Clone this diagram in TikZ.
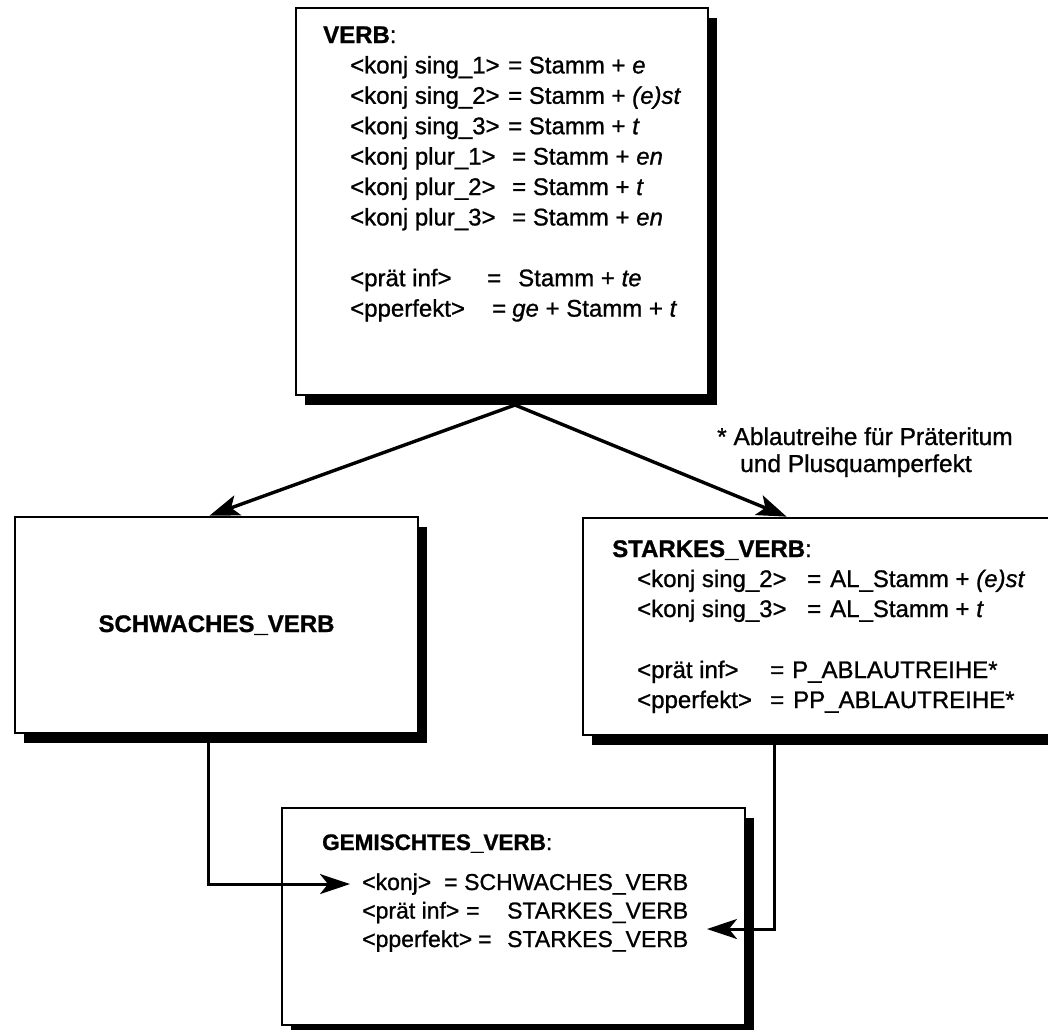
\documentclass[tikz,border=0pt]{standalone}
\usepackage{fontspec}
\setmainfont{Liberation Sans}[FakeBold=1.0]
\usetikzlibrary{arrows.meta,shadows}
\newcommand\lbx[2]{\makebox[#1pt][l]{#2}}
\begin{document}
\begin{tikzpicture}[x=1pt,y=-1pt,
  box/.style={draw=black, line width=2.7pt, fill=white, inner sep=0pt,
    drop shadow={shadow xshift=9pt,shadow yshift=-10pt,fill=black,opacity=1}},
  txt/.style={inner sep=0pt, anchor=base west, font=\fontsize{24}{29}\selectfont},
  stxt/.style={inner sep=0pt, anchor=base west, font=\fontsize{23}{27}\selectfont},
  conn/.style={line width=3.4pt, -{Stealth[length=30pt,width=21pt,inset=7pt]}},
  conntwo/.style={line width=3pt, -{Stealth[length=30pt,width=20pt,inset=8pt]}},
]
\useasboundingbox (0,0) rectangle (1048,1029);
\fill[white] (0,0) rectangle (1048,1029);

% boxes
\node[box, minimum width=412pt, minimum height=387pt] (verb) at (502,201.5) {};
\node[box, minimum width=403pt, minimum height=216pt] (schwach) at (216.5,625) {};
\node[box, minimum width=520pt, minimum height=217pt] (stark) at (843,626.5) {};
\node[box, minimum width=463pt, minimum height=217pt] (gem) at (513.5,916.5) {};

% VERB text
\node[txt] (v0) at (323,43) {\textbf{VERB}:};
\node[txt] (v1) at (350,73.4) {\lbx{158}{<konj sing\_1>}= Stamm + \textit{e}};
\node[txt] (v2) at (350,103.8) {\lbx{158}{<konj sing\_2>}= Stamm + \textit{(e)st}};
\node[txt] (v3) at (350,134.2) {\lbx{158}{<konj sing\_3>}= Stamm + \textit{t}};
\node[txt] (v4) at (350,164.6) {\lbx{162}{<konj plur\_1>}= Stamm + \textit{en}};
\node[txt] (v5) at (350,195) {\lbx{162}{<konj plur\_2>}= Stamm + \textit{t}};
\node[txt] (v6) at (350,225.4) {\lbx{162}{<konj plur\_3>}= Stamm + \textit{en}};
\node[txt] (v7) at (350,286.2) {\lbx{137}{<prät inf>}=\hspace{17pt}Stamm + \textit{te}};
\node[txt] (v8) at (350,316.6) {\lbx{142}{<pperfekt>}=\hspace{6pt}\textit{ge} + Stamm + \textit{t}};

% SCHWACHES_VERB
\node[txt, anchor=base] (s0) at (216.5,632) {\textbf{SCHWACHES\_VERB}};

% STARKES_VERB
\node[txt] (k0) at (612,557) {\textbf{STARKES\_VERB}:};
\node[txt] (k1) at (637,587) {\lbx{170}{<konj sing\_2>}=\hspace{9pt}AL\_Stamm + \textit{(e)st}};
\node[txt] (k2) at (637,617) {\lbx{170}{<konj sing\_3>}=\hspace{9pt}AL\_Stamm + \textit{t}};
\node[txt] (k3) at (637,678) {\lbx{133}{<prät inf>}=\hspace{8pt}P\_ABLAUTREIHE*};
\node[txt] (k4) at (637,708) {\lbx{133}{<pperfekt>}=\hspace{9pt}PP\_ABLAUTREIHE*};

% annotation
\node[txt, font=\fontsize{24.5}{29}\selectfont] (a1) at (717,445) {* Ablautreihe für Präteritum};
\node[txt, font=\fontsize{24.5}{29}\selectfont] (a2) at (740,472) {und Plusquamperfekt};

% GEMISCHTES_VERB
\node[stxt, font=\bfseries\fontsize{22.5}{27}\selectfont] (g0) at (322,850) {GEMISCHTES\_VERB\textmd{:}};
\node[stxt] (g1) at (362,890) {\lbx{82}{<konj>}\lbx{20}{=}SCHWACHES\_VERB};
\node[stxt] (g2) at (362,918.5) {\lbx{104}{<prät inf>}\lbx{41}{=}STARKES\_VERB};
\node[stxt] (g3) at (362,947) {\lbx{116}{<pperfekt>}\lbx{29}{=}STARKES\_VERB};

% connectors
\coordinate (apex) at (515,405);
\draw[conn] (apex) -- ([xshift=-7pt]schwach.north);
\draw[conn] (apex) -- ([xshift=205pt]stark.north west);
\draw[conntwo] ([xshift=-8.5pt]schwach.south) |- ([xshift=-12pt]g1.west);
\coordinate (tipR) at (707,929);
\draw[conntwo] ([xshift=193pt]stark.south west) |- (tipR);
\end{tikzpicture}
\end{document}
